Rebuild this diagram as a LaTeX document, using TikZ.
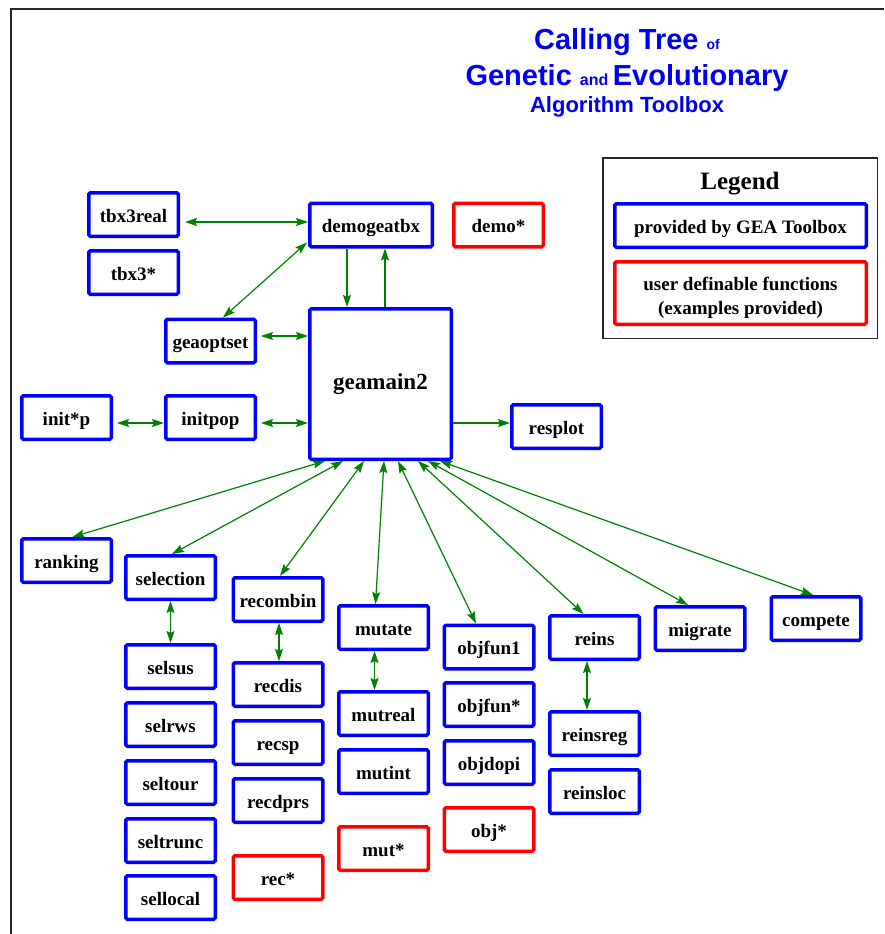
\documentclass[tikz,border=0pt]{standalone}
\usepackage{fontspec}
\setmainfont{Liberation Serif}
\newfontfamily\titlefont{Liberation Sans}
\usetikzlibrary{arrows.meta}
\definecolor{boxblue}{RGB}{0,0,255}
\definecolor{boxred}{RGB}{255,0,0}
\definecolor{arrgreen}{RGB}{0,128,0}
\definecolor{titleblue}{RGB}{0,0,240}
\begin{document}
\begin{tikzpicture}[x=1pt,y=-1pt,
  fbox/.style={draw=boxblue, line width=3.5pt, rounded corners=1.5pt,
    minimum width=89.5pt, minimum height=43.5pt, inner sep=0pt,
    text height=17pt, text depth=1.5pt,
    font=\fontsize{19}{22}\selectfont\bfseries},
  ubox/.style={fbox, draw=boxred},
  conn/.style={draw=arrgreen, line width=1.2pt},
  >={Stealth[length=12pt,width=8pt,inset=2pt]},
  ttl/.style={anchor=base, text=titleblue, inner sep=0pt},
  lgtxt/.style={anchor=base, inner sep=0pt, font=\fontsize{19}{22}\selectfont\bfseries}
]
\useasboundingbox (0,0) rectangle (884,934);
\fill[white] (0,0) rectangle (884,934);
% frame
\draw[line width=2pt, black!85] (11,934) -- (11,9) -- (884,9);

% title
\node[ttl] (t1) at (627,49) {\titlefont\bfseries\fontsize{29}{30}\selectfont Calling Tree \fontsize{14}{15}\selectfont of};
\node[ttl] (t2) at (627,85.5) {\titlefont\bfseries\fontsize{29}{30}\selectfont Genetic \fontsize{16}{17}\selectfont and \fontsize{29}{30}\selectfont Evolutionary};
\node[ttl] (t3) at (627,112) {\titlefont\bfseries\fontsize{22}{23}\selectfont Algorithm Toolbox};

% legend
\node[draw=black!85, line width=1.5pt, minimum width=274.5pt, minimum height=180.5pt, inner sep=0pt] (legend) at (740,248) {};
\node[anchor=base, inner sep=0pt, font=\fontsize{25}{26}\selectfont\bfseries] (legtitle) at (740,189) {Legend};
\node[fbox, minimum width=251.5pt] (legblue) at (740.5,225.5) {provided by GEA Toolbox};
\node[ubox, minimum width=251.5pt, minimum height=62.5pt] (legred) at (740.5,293) {};
\node[lgtxt] (legred1) at (740.5,290.5) {user definable functions};
\node[lgtxt] (legred2) at (740.5,314) {(examples provided)};

% upper nodes
\node[fbox] (tbxreal) at (133.5,214.5) {tbx3real};
\node[fbox] (tbxU) at (133.5,272.5) {tbx3*};
\node[fbox, minimum width=122.5pt] (demogeatbx) at (371,225) {demogeatbx};
\node[ubox] (demoU) at (498.5,225) {demo*};
\node[fbox] (geaoptset) at (210.5,341) {geaoptset};
\node[fbox, minimum width=141.5pt, minimum height=150.5pt, text height=16pt, text depth=6pt, font=\fontsize{23}{26}\selectfont\bfseries] (geamain) at (380.5,384) {geamain2};
\node[fbox] (initp) at (66.5,417.5) {init*p};
\node[fbox] (initpop) at (210.5,417.5) {initpop};
\node[fbox] (resplot) at (556.5,426.5) {resplot};

% second level
\node[fbox] (ranking) at (66.5,560.5) {ranking};
\node[fbox] (selection) at (170.5,577.5) {selection};
\node[fbox] (recombin) at (278,599.5) {recombin};
\node[fbox] (mutate) at (383.5,627.5) {mutate};
\node[fbox] (objfun1) at (489,647) {objfun1};
\node[fbox] (reins) at (594.5,637.5) {reins};
\node[fbox] (migrate) at (700,628.5) {migrate};
\node[fbox] (compete) at (816,618.5) {compete};

% columns
\node[fbox] (selsus) at (170.5,666.5) {selsus};
\node[fbox] (selrws) at (170.5,724.5) {selrws};
\node[fbox] (seltour) at (170.5,782.5) {seltour};
\node[fbox] (seltrunc) at (170.5,840.5) {seltrunc};
\node[fbox] (sellocal) at (170.5,897.5) {sellocal};

\node[fbox] (recdis) at (278,684.5) {recdis};
\node[fbox] (recsp) at (278,742.5) {recsp};
\node[fbox] (recdprs) at (278,800.5) {recdprs};
\node[ubox] (recU) at (278,877.5) {rec*};

\node[fbox] (mutreal) at (383.5,713.5) {mutreal};
\node[fbox] (mutint) at (383.5,771.5) {mutint};
\node[ubox] (mutU) at (383.5,848.5) {mut*};

\node[fbox] (objfunU) at (489,704.5) {objfun*};
\node[fbox] (objdopi) at (489,762.5) {objdopi};
\node[ubox] (objU) at (489,829.5) {obj*};

\node[fbox] (reinsreg) at (594.5,733.5) {reinsreg};
\node[fbox] (reinsloc) at (594.5,791.5) {reinsloc};

% connectors, upper part
\draw[conn,<->] ([xshift=5pt,yshift=-7.5pt]tbxreal.east) -- ([yshift=3pt]demogeatbx.west);
\draw[conn,<->] ([xshift=-1pt,yshift=6pt]demogeatbx.south west) -- ([xshift=12.5pt]geaoptset.north);
\draw[conn,<->] ([xshift=4pt,yshift=5pt]geaoptset.east) -- ([yshift=5pt]geaoptset.east -| geamain.west);
\draw[conn,->] ([xshift=-24pt]demogeatbx.south) -- ([xshift=-24pt]demogeatbx.south |- geamain.north);
\draw[conn,->] ([xshift=14pt]demogeatbx.south |- geamain.north) -- ([xshift=14pt]demogeatbx.south);
\draw[conn,<->] ([xshift=4pt,yshift=-5.5pt]initp.east) -- ([yshift=-5.5pt]initpop.west);
\draw[conn,<->] ([xshift=4pt,yshift=-5.5pt]initpop.east) -- ([yshift=-5.5pt]initpop.east -| geamain.west);
\draw[conn,->] ([yshift=-5.5pt]initpop.east -| geamain.east) -- ([yshift=-5.5pt]initpop.east -| resplot.west);

% connectors from geamain2 bottom
\draw[conn,<->] ([xshift=17pt]geamain.south west) -- ([xshift=6pt]ranking.north);
\draw[conn,<->] ([xshift=35pt]geamain.south west) -- ([xshift=1.5pt]selection.north);
\draw[conn,<->] ([xshift=56pt]geamain.south west) -- ([xshift=2pt]recombin.north);
\draw[conn,<->] ([xshift=76pt]geamain.south west) -- ([xshift=-8pt]mutate.north);
\draw[conn,<->] ([xshift=90pt]geamain.south west) -- ([xshift=-13pt]objfun1.north);
\draw[conn,<->] ([xshift=110pt]geamain.south west) -- ([xshift=-11pt]reins.north);
\draw[conn,<->] ([xshift=120pt]geamain.south west) -- ([xshift=-12pt]migrate.north);
\draw[conn,<->] ([xshift=132pt]geamain.south west) -- ([xshift=-3pt]compete.north);

% vertical sub-connectors
\draw[conn,<->] (selection.south) -- (selsus.north);
\draw[conn,<->] ([xshift=1pt]recombin.south) -- ([xshift=1pt]recdis.north);
\draw[conn,<->] ([xshift=-9pt]mutate.south) -- ([xshift=-9pt]mutreal.north);
\draw[conn,<->] ([xshift=-7.5pt]reins.south) -- ([xshift=-7.5pt]reinsreg.north);
\end{tikzpicture}
\end{document}
